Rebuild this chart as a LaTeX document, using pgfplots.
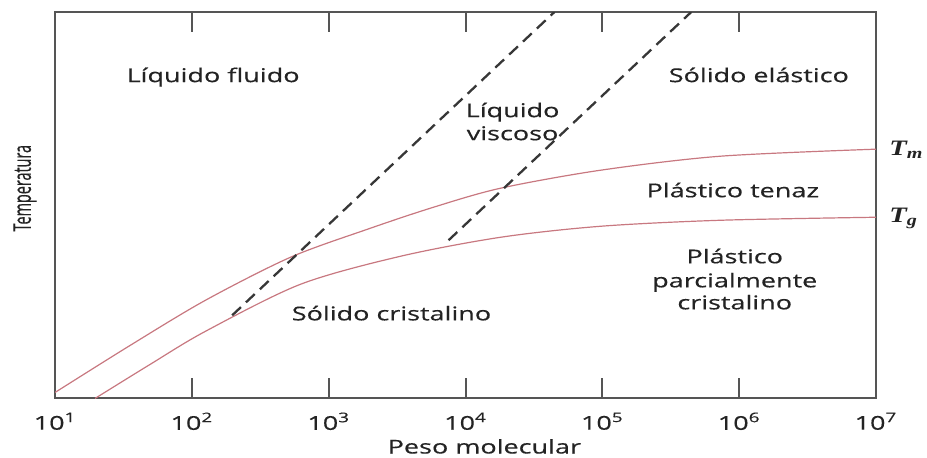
\documentclass[border=0pt]{standalone}
\usepackage{fontspec}
\setmainfont[FakeStretch=1.42,FakeBold=0.4]{Open Sans}
\newfontfamily\plainfont[FakeBold=0.4]{Open Sans}
\newfontfamily\tfont[FakeStretch=1.3]{Liberation Serif}
\usepackage{pgfplots}
\pgfplotsset{compat=1.18}
\definecolor{curve}{RGB}{200,120,128}
\definecolor{frame}{RGB}{85,85,85}
\definecolor{txt}{RGB}{35,35,35}
\definecolor{dashc}{RGB}{55,55,55}
\begin{document}
\begin{tikzpicture}
\begin{axis}[name=ax,
  xmode=log, log basis x=10,
  scale only axis, width=410pt, height=193pt,
  xmin=10, xmax=1e7, ymin=0, ymax=386,
  ytick=\empty,
  xtick={1e1,1e2,1e3,1e4,1e5,1e6,1e7},
  xticklabels={10\textsuperscript{1},10\textsuperscript{2},10\textsuperscript{3},10\textsuperscript{4},10\textsuperscript{5},10\textsuperscript{6},10\textsuperscript{7}},
  xminorticks=false,
  tick align=inside, major tick length=10pt,
  axis line style={frame, line width=1pt},
  every tick/.style={frame, line width=1pt},
  xticklabel style={font=\fontsize{9.5}{11}\selectfont, text=txt, yshift=-3.5pt},
  xlabel={Peso molecular},
  xlabel style={at={(axis description cs:0.523,0)}, anchor=base, inner sep=0pt, yshift=-27.5pt, font=\fontsize{9.5}{11}\selectfont, text=txt},
  clip mode=individual,
]
% T_m
\addplot[curve, line width=0.6pt, smooth] coordinates {
 (10,6) (35.4,53) (125.4,98) (524.8,141) (1919,169) (5834,191) (18030,210) (97270,228) (734500,242) (1e7,249)};
% T_g
\addplot[curve, line width=0.6pt, smooth] coordinates {
 (19.6,0) (49.5,34) (125.4,67) (621,114) (3342,142) (18030,161) (97270,172) (734500,178) (1e7,181)};
% dashed boundaries
\addplot[dashc, line width=1.15pt, dash pattern=on 6pt off 3.5pt] coordinates {(197,83) (44668,386)};
\addplot[dashc, line width=1.15pt, dash pattern=on 6pt off 3.5pt] coordinates {(7516,158) (446684,386)};

\begin{scope}[every node/.style={text=txt, font=\fontsize{9.5}{11.5}\selectfont, anchor=base, inner sep=0pt}]
\node at (axis cs:143,316) {Líquido fluido};
\node at (axis cs:1.393e6,316) {Sólido elástico};
\node at (axis cs:22080,281) {Líquido};
\node at (axis cs:22080,258) {viscoso};
\node at (axis cs:899500,201) {Plástico tenaz};
\node at (axis cs:929000,135) {Plástico};
\node at (axis cs:929000,111) {parcialmente};
\node at (axis cs:929000,89) {cristalino};
\node at (axis cs:2878,78) {Sólido cristalino};
\end{scope}
\node[anchor=base west, inner sep=0pt, xshift=6.5pt, text=txt, font=\tfont\fontsize{11}{12}\selectfont\bfseries\itshape] at (axis cs:1e7,243) {T\textsubscript{m}};
\node[anchor=base west, inner sep=0pt, xshift=6.5pt, text=txt, font=\tfont\fontsize{11}{12}\selectfont\bfseries\itshape] at (axis cs:1e7,176) {T\textsubscript{g}};
\node[xscale=1.7, rotate=90, text=txt, font=\plainfont\fontsize{7.2}{8}\selectfont, inner sep=0pt] at (axis description cs:-0.0366,0.544) {Temperatura};
\end{axis}
\pgfresetboundingbox
\path[use as bounding box] ([xshift=-27.5pt,yshift=-29.5pt]ax.south west) rectangle ([xshift=25.5pt,yshift=6pt]ax.north east);
\end{tikzpicture}
\end{document}
